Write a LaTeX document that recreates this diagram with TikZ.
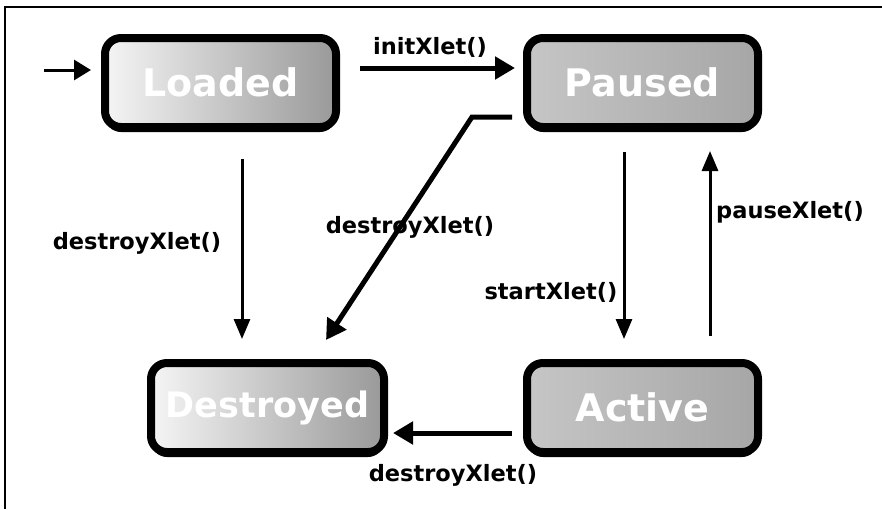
\documentclass[tikz,border=0pt]{standalone}
\usepackage{fontspec}
\setmainfont{DejaVu Sans}
\usetikzlibrary{arrows.meta,shadows,calc}
\begin{document}
\begin{tikzpicture}[x=1pt,y=-1pt,
  statebox/.style={draw=black, line width=8pt, rounded corners=16pt,
    minimum width=231pt, minimum height=89pt, inner sep=0pt,
    text=white, font=\fontsize{38}{42}\selectfont\bfseries,
    drop shadow={shadow xshift=0pt,shadow yshift=-5pt,fill=black,opacity=1}},
  lightbox/.style={statebox, left color=gray!8, right color=gray!80},
  midbox/.style={statebox, left color=gray!45, right color=gray!70},
  lbl/.style={font=\fontsize{22.5}{26}\selectfont\bfseries, text=black, inner sep=0pt},
  thickarr/.style={line width=5pt, -{Triangle[length=20pt,width=22pt]}},
  thinarr/.style={line width=3pt, -{Triangle[length=20pt,width=16pt]}},
  initarr/.style={line width=3pt, -{Triangle[length=17pt,width=20pt]}}
]
\useasboundingbox (0,0) rectangle (882,509);
\fill[white] (0,0) rectangle (882,509);
% frame
\draw[line width=1.2pt] (5,509) -- (5,7) -- (882,7);

% states
\node[lightbox] (loaded) at (220.5,82.5) {Loaded};
\node[midbox] (paused) at (642.5,82.5) {Paused};
\node[lightbox, minimum width=233pt, font=\fontsize{35}{40}\selectfont\bfseries] (destroyed) at (267.5,407.5) {Destroyed};
\node[midbox] (active) at (642.5,407.5) {Active};

% initial arrow
\coordinate (init) at (44,70);
\draw[initarr] (init) -- ([xshift=-10pt]loaded.west |- init);

% initXlet
\draw[thickarr] ([xshift=20pt]loaded.east |- 0,68) -- ([xshift=-8pt]paused.west |- 0,68);
\node[lbl] (l1) at (430,47) {initXlet()};

% Loaded -> Destroyed
\draw[thinarr] ([yshift=-28pt]loaded.south -| 242,0) -- ([yshift=20pt]destroyed.north -| 242,0);
\node[lbl] (l2) at (137,243) {destroyXlet()};

% Paused -> Destroyed (diagonal)
\coordinate (bend) at (472,117);
\draw[thickarr] ([xshift=-11pt]paused.west |- bend) -- (bend) -- (326,340);
\node[lbl] (l3) at (410,227) {destroyXlet()};

% Paused -> Active
\draw[thinarr] ([yshift=-21pt]paused.south -| 624,0) -- ([yshift=20pt]active.north -| 624,0);
\node[lbl] (l4) at (551,292) {startXlet()};

% Active -> Paused
\draw[thinarr] ([yshift=23pt]active.north -| 710,0) -- ([yshift=-20pt]paused.south -| 710,0);
\node[lbl] (l5) at (790,212) {pauseXlet()};

% Active -> Destroyed
\draw[thickarr] ([xshift=-11pt]active.west |- 0,433) -- ([xshift=5pt]destroyed.east |- 0,433);
\node[lbl] (l6) at (453,475) {destroyXlet()};
\end{tikzpicture}
\end{document}
